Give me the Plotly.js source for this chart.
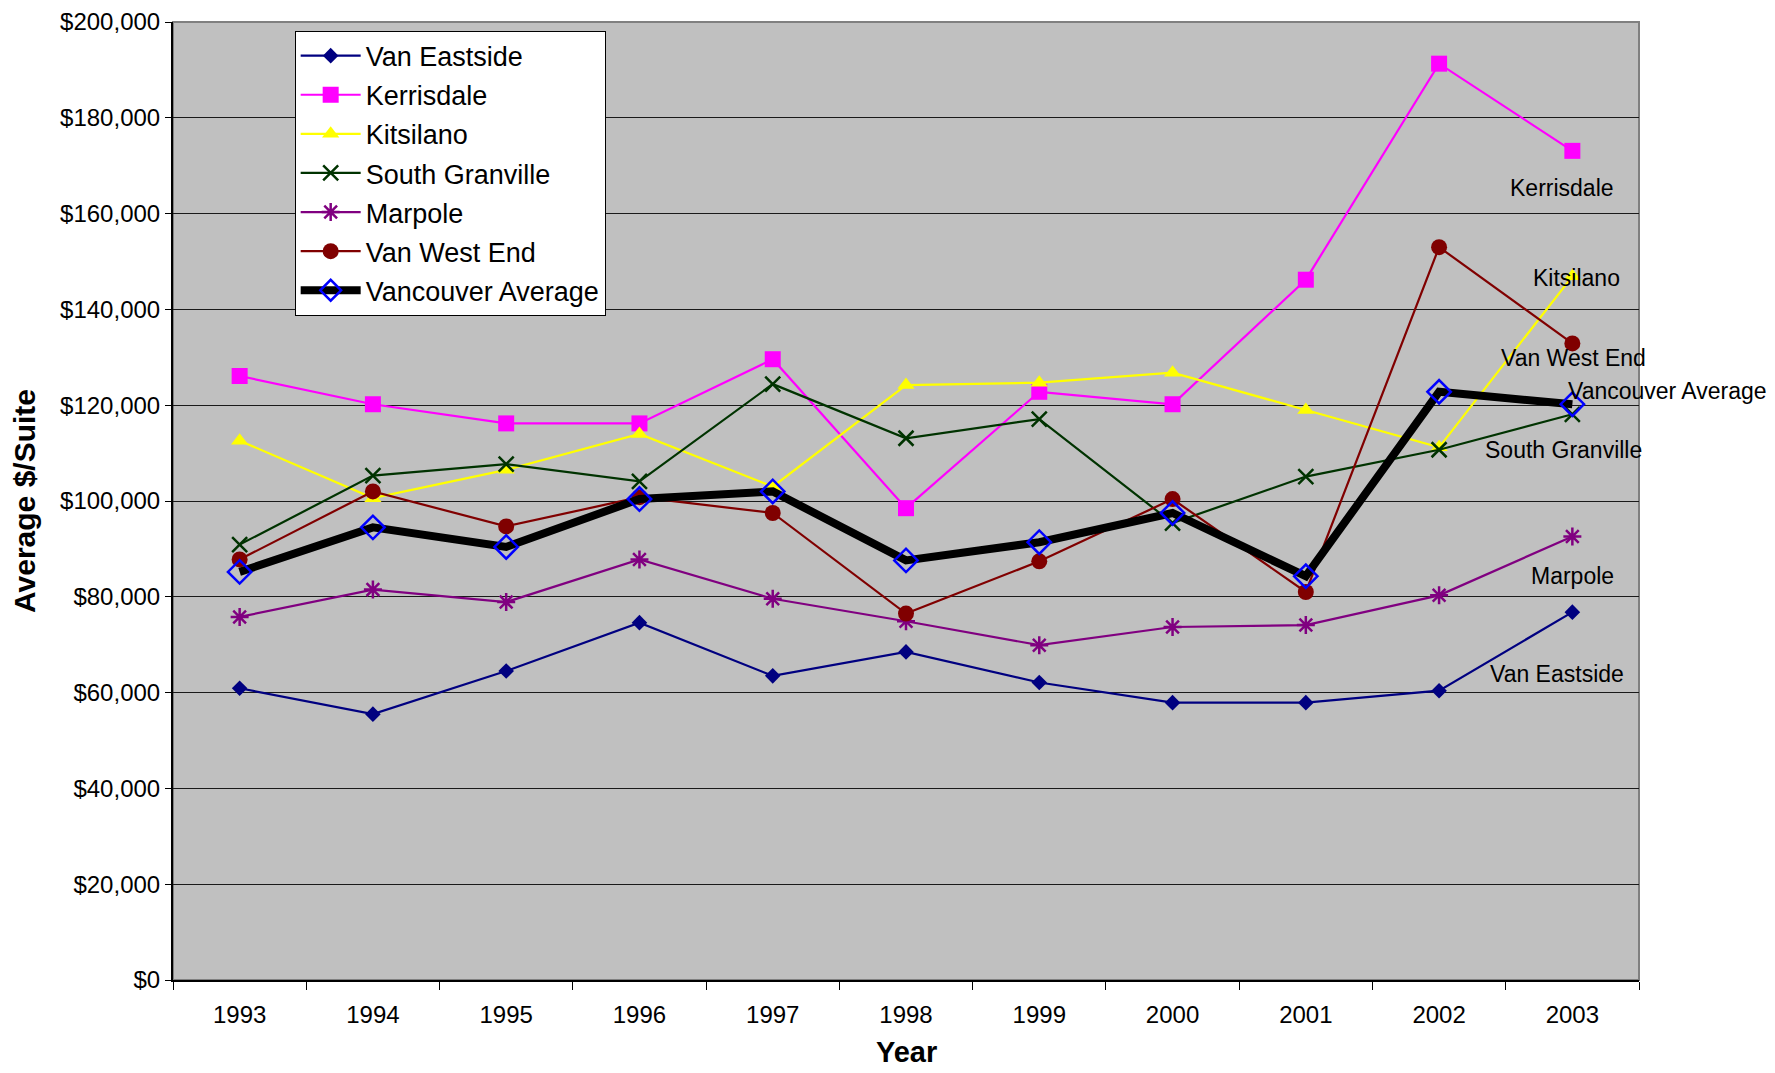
<!DOCTYPE html>
<html>
<head>
<meta charset="utf-8">
<script src="https://cdn.plot.ly/plotly-3.0.1.min.js"></script>
<style>html,body{margin:0;padding:0;background:#fff;}#chart{width:1775px;height:1073px;}</style>
</head>
<body>
<div id="chart"></div>
<script>
const years = ['1993','1994','1995','1996','1997','1998','1999','2000','2001','2002','2003'];
const vanEastside = [60900, 55500, 64500, 74600, 63500, 68500, 62100, 57900, 57900, 60400, 76800];
const kerrisdale = [126100, 120200, 116200, 116200, 129600, 98500, 122800, 120200, 146200, 191300, 173100];
const kitsilano = [112600, 100600, 106500, 114000, 103000, 124200, 124700, 126800, 119000, 111200, 146900];
const southGranville = [90900, 105300, 107700, 104100, 124400, 113100, 117100, 95400, 105100, 110700, 118100];
const marpole = [75800, 81500, 78900, 87800, 79600, 74900, 69900, 73700, 74100, 80300, 92600];
const vanWestEnd = [87800, 102000, 94700, 100800, 97500, 76500, 87400, 100400, 81000, 153000, 132900];
const vancouverAverage = [85200, 94500, 90400, 100400, 102000, 87600, 91400, 97500, 84300, 122800, 120200];

const seriesNames = ['Van Eastside','Kerrisdale','Kitsilano','South Granville','Marpole','Van West End','Vancouver Average'];
// end-of-line label positions (paper x, data y)
const labelX = [0.9444, 0.9475, 0.9575, 0.9483, 0.9544, 0.9552, 1.0193];
const labelY = [63800, 165300, 146600, 110700, 84300, 129900, 123000];

const FONT = 'Liberation Sans, Arial, sans-serif';

const traces = [
  {name: seriesNames[0], y: vanEastside, line:{color:'#000080', width:2.2}, marker:{symbol:'diamond', size:12, color:'#000080'}},
  {name: seriesNames[1], y: kerrisdale, line:{color:'#FF00FF', width:2.2}, marker:{symbol:'square', size:16, color:'#FF00FF'}},
  {name: seriesNames[2], y: kitsilano, line:{color:'#FFFF00', width:2.2}, marker:{symbol:'triangle-up', size:15, color:'#FFFF00'}},
  {name: seriesNames[3], y: southGranville, line:{color:'#003300', width:2.2}, marker:{symbol:'x-thin-open', size:15, color:'#003300', line:{color:'#003300', width:2.5}}},
  {name: seriesNames[4], y: marpole, line:{color:'#800080', width:2.2}, marker:{symbol:'asterisk-open', size:15, color:'#800080', line:{color:'#800080', width:2.5}}},
  {name: seriesNames[5], y: vanWestEnd, line:{color:'#800000', width:2.2}, marker:{symbol:'circle', size:16, color:'#800000'}},
  {name: seriesNames[6], y: vancouverAverage, line:{color:'#000000', width:8}, marker:{symbol:'diamond-open', size:18, color:'#0000FF', line:{color:'#0000FF', width:2.5}}}
].map((t, i) => Object.assign({type:'scatter', mode:'lines+markers', x: years, legendgroup:'g'+i}, t));

const annotations = seriesNames.map((n, i) => ({
  text: n, x: labelX[i], y: labelY[i], xref:'paper', yref:'y', showarrow:false,
  font:{family:FONT, size:23, color:'#000'}, xanchor:'center', yanchor:'middle'
}));
annotations.push({text:'<b>Year</b>', x:0.5, y:-0.094, xref:'paper', yref:'paper', showarrow:false,
  font:{family:FONT, size:29, color:'#000'}, xanchor:'center', yanchor:'bottom'});

const layout = {
  width:1775, height:1073,
  margin:{l:173, r:136, t:22, b:93},
  paper_bgcolor:'#ffffff', plot_bgcolor:'#c0c0c0',
  font:{family:FONT, color:'#000'},
  showlegend:true,
  legend:{x:0.083, y:0.991, xanchor:'left', yanchor:'top', bgcolor:'#ffffff', bordercolor:'#000', borderwidth:1,
          font:{family:FONT, size:27, color:'#000'}, tracegroupgap:1, itemwidth:60},
  xaxis:{type:'category', range:[-0.5,10.5], showgrid:false, showline:true, linecolor:'#000', linewidth:2,
         ticks:'outside', tickson:'boundaries', ticklen:8, tickcolor:'#000', ticklabelstandoff:12,
         tickfont:{family:FONT, size:24, color:'#000'}, automargin:false, fixedrange:true},
  yaxis:{range:[0,200000], dtick:20000, tickprefix:'$', tickformat:',d', showgrid:true, gridcolor:'#1a1a1a', gridwidth:1,
         showline:true, linecolor:'#000', linewidth:2, ticks:'outside', ticklen:6, tickcolor:'#000', zeroline:false,
         tickfont:{family:FONT, size:24, color:'#000'},
         title:{text:'<b>Average $/Suite</b>', font:{family:FONT, size:30, color:'#000'}, standoff:16}, automargin:false, fixedrange:true},
  annotations: annotations,
  shapes:[{type:'rect', xref:'paper', yref:'paper', x0:0, x1:1, y0:0, y1:1, line:{color:'#808080', width:2}, layer:'below'}]
};

Plotly.newPlot('chart', traces, layout, {displayModeBar:false, staticPlot:true});
</script>
</body>
</html>
